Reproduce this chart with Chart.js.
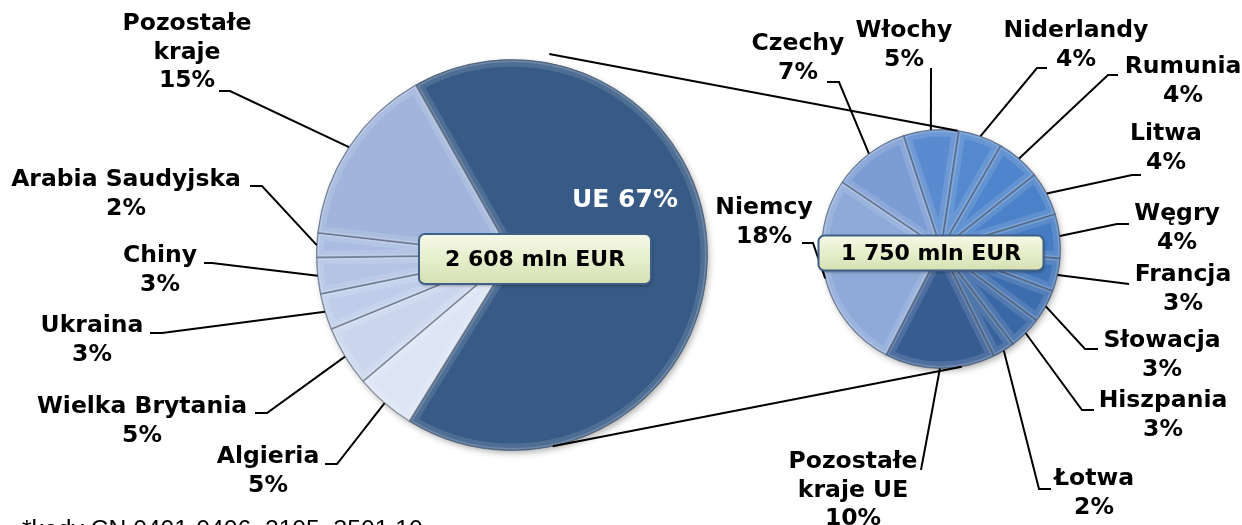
<!DOCTYPE html>
<html>
<head>
<meta charset="utf-8">
<script src="https://cdn.jsdelivr.net/npm/chart.js@4.4.1/dist/chart.umd.min.js"></script>
<style>
  body { margin: 0; background: #fff; }
  #wrap { position: relative; width: 1242px; height: 525px; overflow: hidden; }
  canvas { position: absolute; left: 0; top: 0; }
  #przypis { position: absolute; left: 22px; top: 517px; font: 24.7px "Liberation Sans", Arial, sans-serif; line-height: 24px; color: #000; white-space: nowrap; }
</style>
</head>
<body>
<div id="wrap">
  <canvas id="wykresSwiat" width="1242" height="525"></canvas>
  <canvas id="wykresUE" width="1242" height="525"></canvas>
  <div id="przypis">*kody CN 0401-0406, 2105, 3501 10</div>
</div>
<script>
// dane - struktura (%), pierwszy wykres: swiat, drugi: rozbicie UE
const krajeSwiat = ['UE', 'Algieria', 'Wielka Brytania', 'Ukraina', 'Chiny', 'Arabia Saudyjska', 'Pozostałe kraje'];
const udzialySwiat = [67, 5, 5, 3, 3, 2, 15];
const sumaSwiat = '2 608 mln EUR';

const krajeUE = ['Włochy', 'Niderlandy', 'Rumunia', 'Litwa', 'Węgry', 'Francja', 'Słowacja', 'Hiszpania', 'Łotwa', 'Pozostałe kraje UE', 'Niemcy', 'Czechy'];
const udzialyUE = [5, 4, 4, 4, 4, 3, 3, 3, 2, 10, 18, 7];
const sumaUE = '1 750 mln EUR';

const kolorySwiat = ['#375a86', '#dde5f4', '#cbd6ee', '#bfcdea', '#b4c4e5', '#aabce1', '#a1b5dc'];
const koloryUE = ['#5a8bd0', '#5589cf', '#4f85cc', '#4a81c8', '#457cc3', '#4075ba', '#3c6daf', '#3a67a5', '#38629d', '#365c92', '#8eaad9', '#7b9dd4'];

const FONT = '"DejaVu Sans", Verdana, sans-serif';

// uklad etykiet: srodek tekstu (x, y pierwszej linii), poczatek linii odniesienia (lx, ly) i kolanko (ex)
const ukladSwiat = [
  null,
  { x: 268, y: 457, lx: 325, ly: 464, ex: 337 },
  { x: 142, y: 407, lx: 255, ly: 413, ex: 267 },
  { x: 92, y: 326, lx: 150, ly: 333, ex: 162 },
  { x: 160, y: 256, lx: 204, ly: 263, ex: 212 },
  { x: 126, y: 180, lx: 250, ly: 186, ex: 262 },
  { x: 187, y: 24, lx: 219, ly: 91, ex: 230, zawin: true }
];
const ukladUE = [
  { x: 904, y: 31, lx: 931, ly: 68, ex: 931 },
  { x: 1076, y: 31, lx: 1047, ly: 68, ex: 1037 },
  { x: 1183, y: 67, lx: 1118, ly: 75, ex: 1108 },
  { x: 1166, y: 134, lx: 1141, ly: 175, ex: 1132 },
  { x: 1177, y: 214, lx: 1129, ly: 224, ex: 1117 },
  { x: 1183, y: 275, lx: 1129, ly: 284, ex: 1129 },
  { x: 1162, y: 341, lx: 1098, ly: 349, ex: 1085 },
  { x: 1163, y: 401, lx: 1094, ly: 410, ex: 1082 },
  { x: 1094, y: 479, lx: 1051, ly: 489, ex: 1039 },
  { x: 853, y: 462, lx: 921, ly: 470, ex: 921, zawin: true },
  { x: 764, y: 208, lx: 802, ly: 243, ex: 813 },
  { x: 798, y: 44, lx: 827, ly: 82, ex: 839 }
];

function geometria(arc) {
  return arc.getProps(['x', 'y', 'startAngle', 'endAngle', 'outerRadius'], true);
}

// cien pod kolem + efekt "bevel" na kazdym wycinku
const fazowanie = {
  id: 'fazowanie',
  beforeDatasetsDraw(chart) {
    const ctx = chart.ctx;
    const p = geometria(chart.getDatasetMeta(0).data[0]);
    ctx.save();
    ctx.beginPath();
    ctx.arc(p.x, p.y, p.outerRadius - 1, 0, Math.PI * 2);
    ctx.shadowColor = 'rgba(0,0,0,0.35)';
    ctx.shadowBlur = 7;
    ctx.shadowOffsetX = 2;
    ctx.shadowOffsetY = 3;
    ctx.fillStyle = '#fff';
    ctx.fill();
    ctx.restore();
  },
  afterDatasetsDraw(chart) {
    const ctx = chart.ctx;
    chart.getDatasetMeta(0).data.forEach(arc => {
      const p = geometria(arc);
      ctx.save();
      ctx.beginPath();
      ctx.moveTo(p.x, p.y);
      ctx.arc(p.x, p.y, p.outerRadius, p.startAngle, p.endAngle);
      ctx.closePath();
      ctx.clip();
      ctx.lineJoin = 'miter';
      ctx.lineWidth = 14;
      ctx.strokeStyle = 'rgba(255,255,255,0.12)';
      ctx.stroke();
      ctx.lineWidth = 5;
      ctx.strokeStyle = 'rgba(255,255,255,0.18)';
      ctx.stroke();
      ctx.lineWidth = 2;
      ctx.strokeStyle = 'rgba(20,35,60,0.3)';
      ctx.stroke();
      ctx.restore();
    });
  }
};

function etykiety(uklad, ramka) {
  return {
    id: 'etykiety',
    afterDraw(chart) {
      const ctx = chart.ctx;
      const meta = chart.getDatasetMeta(0);
      const nazwy = chart.data.labels;
      const wartosci = chart.data.datasets[0].data;
      ctx.save();
      ctx.strokeStyle = '#000';
      ctx.lineWidth = 2;
      ctx.fillStyle = '#000';
      ctx.font = 'bold 23.5px ' + FONT;
      ctx.textAlign = 'center';
      ctx.textBaseline = 'middle';
      meta.data.forEach((arc, i) => {
        const u = uklad[i];
        if (!u) return;
        const p = geometria(arc);
        const kat = (p.startAngle + p.endAngle) / 2;
        const px = p.x + Math.cos(kat) * p.outerRadius;
        const py = p.y + Math.sin(kat) * p.outerRadius;
        ctx.beginPath();
        ctx.moveTo(u.lx, u.ly);
        ctx.lineTo(u.ex, u.ly);
        ctx.lineTo(px, py);
        ctx.stroke();
        let linie = [nazwy[i]];
        if (u.zawin) {
          const k = nazwy[i].indexOf(' ');
          linie = [nazwy[i].slice(0, k), nazwy[i].slice(k + 1)];
        }
        linie.push(wartosci[i] + '%');
        linie.forEach((t, j) => ctx.fillText(t, u.x, u.y + j * 28.5));
      });
      // ramka z suma
      const c = geometria(meta.data[0]);
      const bx = c.x + ramka.dx - ramka.w / 2, by = c.y + ramka.dy - ramka.h / 2;
      const g = ctx.createLinearGradient(0, by, 0, by + ramka.h);
      g.addColorStop(0, '#f6f9e8');
      g.addColorStop(0.5, '#e6eecb');
      g.addColorStop(1, '#d5e0b2');
      ctx.beginPath();
      ctx.roundRect(bx, by, ramka.w, ramka.h, 6);
      ctx.shadowColor = 'rgba(0,0,0,0.3)';
      ctx.shadowBlur = 3;
      ctx.shadowOffsetX = 1;
      ctx.shadowOffsetY = 2;
      ctx.fillStyle = g;
      ctx.fill();
      ctx.shadowColor = 'transparent';
      ctx.lineWidth = 2;
      ctx.strokeStyle = '#3f5f86';
      ctx.stroke();
      ctx.fillStyle = '#000';
      ctx.font = 'bold 22px ' + FONT;
      ctx.fillText(ramka.tekst, c.x + ramka.dx, c.y + ramka.dy + 1);
      if (ramka.wewn) {
        const w = ramka.wewn;
        ctx.fillStyle = '#fff';
        ctx.font = 'bold 25px ' + FONT;
        ctx.fillText(nazwy[w.i] + ' ' + wartosci[w.i] + '%', c.x + w.dx, c.y + w.dy);
      }
      ctx.restore();
    }
  };
}

function opcje(padding) {
  return {
    responsive: false,
    animation: false,
    events: [],
    layout: { padding: padding },
    plugins: { legend: { display: false }, tooltip: { enabled: false } }
  };
}

const wykresSwiat = new Chart(document.getElementById('wykresSwiat').getContext('2d'), {
  type: 'pie',
  data: {
    labels: krajeSwiat,
    datasets: [{
      data: udzialySwiat,
      backgroundColor: kolorySwiat,
      borderColor: 'rgba(40,55,80,0.5)',
      borderWidth: 1
    }]
  },
  options: Object.assign(opcje({ left: 316, right: 534, top: 59, bottom: 74 }), { rotation: -29.5 }),
  plugins: [fazowanie, etykiety(ukladSwiat, { dx: 23, dy: 4, w: 232, h: 50, tekst: sumaSwiat, wewn: { i: 0, dx: 113, dy: -55 } })]
});

// linie laczace oba wykresy
const laczniki = {
  id: 'laczniki',
  afterDraw(chart) {
    const a = geometria(wykresSwiat.getDatasetMeta(0).data[0]);
    const b = geometria(chart.getDatasetMeta(0).data[0]);
    const pkt = (p, deg, r) => [p.x + Math.sin(deg * Math.PI / 180) * r, p.y - Math.cos(deg * Math.PI / 180) * r];
    const ctx = chart.ctx;
    ctx.save();
    ctx.strokeStyle = '#000';
    ctx.lineWidth = 2;
    [[pkt(a, 10.5, a.outerRadius + 9), pkt(b, 8, b.outerRadius)],
     [pkt(a, 168, a.outerRadius), pkt(b, 170, b.outerRadius)]].forEach(([s, e]) => {
      ctx.beginPath();
      ctx.moveTo(s[0], s[1]);
      ctx.lineTo(e[0], e[1]);
      ctx.stroke();
    });
    ctx.restore();
  }
};

const wykresUE = new Chart(document.getElementById('wykresUE').getContext('2d'), {
  type: 'pie',
  data: {
    labels: krajeUE,
    datasets: [{
      data: udzialyUE,
      backgroundColor: koloryUE,
      borderColor: 'rgba(30,45,70,0.5)',
      borderWidth: 1
    }]
  },
  options: Object.assign(opcje({ left: 821, right: 181, top: 129, bottom: 156 }), { rotation: -18.3 }),
  plugins: [fazowanie, laczniki, etykiety(ukladUE, { dx: -10, dy: 4, w: 225, h: 35, tekst: sumaUE })]
});
</script>
</body>
</html>
